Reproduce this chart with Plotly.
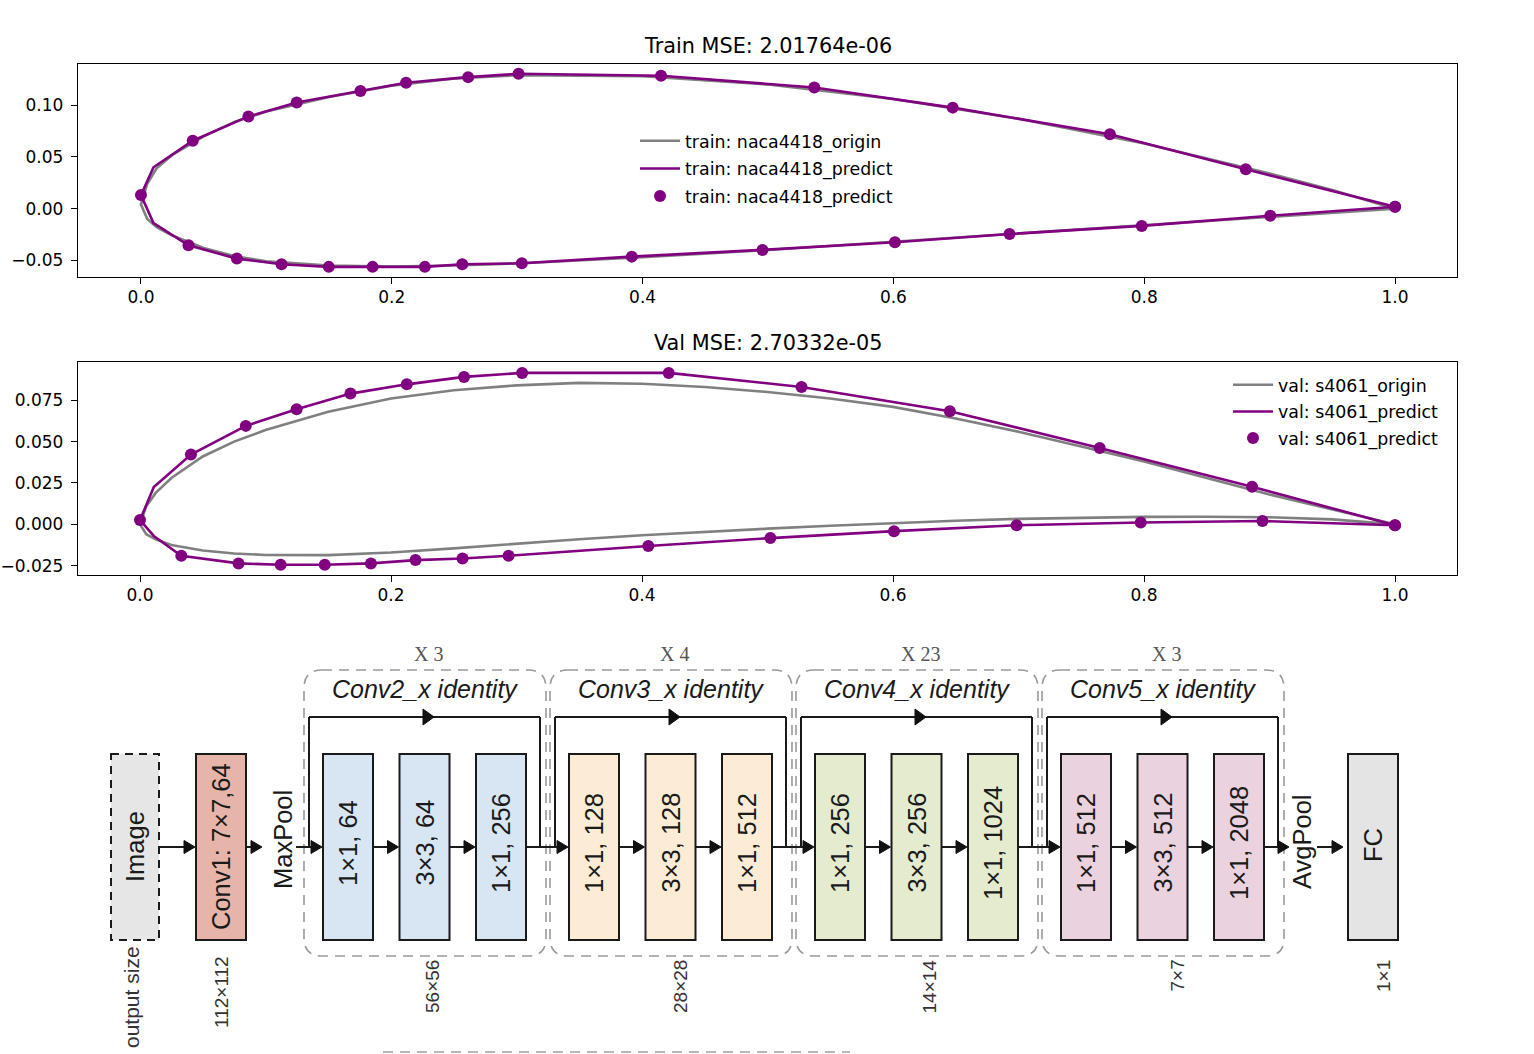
import plotly.graph_objects as go

W, H = 1534, 1054

# ---------------- airfoil data ----------------
# train: naca4418 -- origin contour (TE -> upper -> nose -> lower -> TE)
train_origin_x = [1.0, 0.95, 0.9, 0.8, 0.7, 0.6, 0.5, 0.4, 0.3, 0.25, 0.2, 0.15, 0.1, 0.075, 0.05, 0.025, 0.0125, 0.005, 0.0,
                  0.005, 0.0125, 0.025, 0.05, 0.075, 0.1, 0.15, 0.2, 0.25, 0.3, 0.4, 0.5, 0.6, 0.7, 0.8, 0.9, 0.95, 1.0]
train_origin_y = [0.0, 0.018, 0.034, 0.063, 0.087, 0.106, 0.120, 0.128, 0.129, 0.126, 0.119, 0.108, 0.094, 0.084, 0.070, 0.052, 0.039, 0.024, 0.004,
                  -0.010, -0.018, -0.026, -0.038, -0.046, -0.051, -0.055, -0.056, -0.055, -0.053, -0.047, -0.040, -0.032, -0.024, -0.016, -0.008, -0.004, 0.0]
# train: naca4418 -- predicted contour (line)
train_pred_x = [1.0, 0.881, 0.7726, 0.6473, 0.5369, 0.4147, 0.3011, 0.2609, 0.2114, 0.175, 0.1242, 0.0857, 0.0413, 0.010, 0.0, 0.010,
                0.0379, 0.0765, 0.1121, 0.1498, 0.1847, 0.2264, 0.2562, 0.3037, 0.3914, 0.4956, 0.6012, 0.6926, 0.798, 0.9005, 1.0]
train_pred_y = [0.0019, 0.0380, 0.0719, 0.0977, 0.1172, 0.1285, 0.1304, 0.1272, 0.1217, 0.1137, 0.1027, 0.0892, 0.0657, 0.040, 0.0132, -0.014,
                -0.0354, -0.0483, -0.0538, -0.0563, -0.0563, -0.0563, -0.0538, -0.0528, -0.0464, -0.0399, -0.0325, -0.0245, -0.0167, -0.0068, 0.0019]
# train: naca4418 -- predicted points (markers)
train_pts_x = [1.0, 0.881, 0.7726, 0.6473, 0.5369, 0.4147, 0.3011, 0.2609, 0.2114, 0.175, 0.1242, 0.0857, 0.0413, 0.0,
               0.0379, 0.0765, 0.1121, 0.1498, 0.1847, 0.2264, 0.2562, 0.3037, 0.3914, 0.4956, 0.6012, 0.6926, 0.798, 0.9005, 1.0]
train_pts_y = [0.0019, 0.0380, 0.0719, 0.0977, 0.1172, 0.1285, 0.1304, 0.1272, 0.1217, 0.1137, 0.1027, 0.0892, 0.0657, 0.0132,
               -0.0354, -0.0483, -0.0538, -0.0563, -0.0563, -0.0563, -0.0538, -0.0528, -0.0464, -0.0399, -0.0325, -0.0245, -0.0167, -0.0068, 0.0019]

# val: s4061 -- origin contour
val_origin_x = [1.0, 0.95, 0.9, 0.85, 0.8, 0.75, 0.7, 0.65, 0.6, 0.55, 0.5, 0.45, 0.4, 0.35, 0.3, 0.25, 0.2, 0.15, 0.1, 0.075, 0.05, 0.025, 0.0125, 0.005, 0.0,
                0.005, 0.0125, 0.025, 0.05, 0.075, 0.1, 0.15, 0.2, 0.25, 0.3, 0.35, 0.4, 0.45, 0.5, 0.55, 0.6, 0.65, 0.7, 0.75, 0.8, 0.85, 0.9, 0.95, 1.0]
val_origin_y = [0.0, 0.009, 0.018, 0.028, 0.038, 0.047, 0.056, 0.064, 0.071, 0.076, 0.080, 0.083, 0.085, 0.0855, 0.084, 0.081, 0.076, 0.068, 0.057, 0.050, 0.041, 0.028, 0.019, 0.011, 0.0,
                -0.006, -0.009, -0.0125, -0.0158, -0.0176, -0.0185, -0.0186, -0.017, -0.0145, -0.0117, -0.009, -0.0066, -0.0045, -0.0026, -0.0008, 0.0008, 0.0022, 0.0033, 0.0041, 0.0045, 0.0046, 0.0043, 0.003, 0.0]
# val: s4061 -- predicted contour (line)
val_pred_x = [1.0, 0.8861, 0.7647, 0.6453, 0.5271, 0.4213, 0.3045, 0.2582, 0.2126, 0.1677, 0.1248, 0.0843, 0.0406, 0.011, 0.0, 0.011,
              0.0329, 0.0785, 0.1121, 0.1472, 0.1840, 0.2195, 0.2570, 0.2937, 0.4050, 0.5023, 0.6008, 0.6985, 0.7974, 0.8944, 1.0]
val_pred_y = [-0.0005, 0.0227, 0.0462, 0.0684, 0.0830, 0.0915, 0.0915, 0.0891, 0.0846, 0.0790, 0.0696, 0.0595, 0.0422, 0.0226, 0.0026, -0.007,
              -0.0190, -0.0236, -0.0244, -0.0244, -0.0236, -0.0216, -0.0206, -0.0190, -0.0131, -0.0083, -0.0041, -0.0005, 0.0011, 0.0020, -0.0005]
# val: s4061 -- predicted points (markers)
val_pts_x = [1.0, 0.8861, 0.7647, 0.6453, 0.5271, 0.4213, 0.3045, 0.2582, 0.2126, 0.1677, 0.1248, 0.0843, 0.0406, 0.0,
             0.0329, 0.0785, 0.1121, 0.1472, 0.1840, 0.2195, 0.2570, 0.2937, 0.4050, 0.5023, 0.6008, 0.6985, 0.7974, 0.8944, 1.0]
val_pts_y = [-0.0005, 0.0227, 0.0462, 0.0684, 0.0830, 0.0915, 0.0915, 0.0891, 0.0846, 0.0790, 0.0696, 0.0595, 0.0422, 0.0026,
             -0.0190, -0.0236, -0.0244, -0.0244, -0.0236, -0.0216, -0.0206, -0.0190, -0.0131, -0.0083, -0.0041, -0.0005, 0.0011, 0.0020, -0.0005]

x_tickvals = [0.0, 0.2, 0.4, 0.6, 0.8, 1.0]
x_ticktext = ["0.0", "0.2", "0.4", "0.6", "0.8", "1.0"]
train_ytickvals = [0.10, 0.05, 0.0, -0.05]
train_yticktext = ["0.10", "0.05", "0.00", "\u22120.05"]
val_ytickvals = [0.075, 0.05, 0.025, 0.0, -0.025]
val_yticktext = ["0.075", "0.050", "0.025", "0.000", "\u22120.025"]

train_title = "Train MSE: 2.01764e-06"
val_title = "Val MSE: 2.70332e-05"
train_names = ["train: naca4418_origin", "train: naca4418_predict", "train: naca4418_predict"]
val_names = ["val: s4061_origin", "val: s4061_predict", "val: s4061_predict"]

# ---------------- ResNet diagram data ----------------
stage_titles = ["Conv2_x identity", "Conv3_x identity", "Conv4_x identity", "Conv5_x identity"]
stage_repeats = ["X 3", "X 4", "X 23", "X 3"]
stage_blocks = [["1\u00d71, 64", "3\u00d73, 64", "1\u00d71, 256"],
                ["1\u00d71, 128", "3\u00d73, 128", "1\u00d71, 512"],
                ["1\u00d71, 256", "3\u00d73, 256", "1\u00d71, 1024"],
                ["1\u00d71, 512", "3\u00d73, 512", "1\u00d71, 2048"]]
stage_colors = ["#d8e5f3", "#fcecd6", "#e4ebcf", "#ead2de"]
stage_outsizes = ["56\u00d756", "28\u00d728", "14\u00d714", "7\u00d77"]
head_labels = ["Image", "Conv1: 7\u00d77,64", "MaxPool", "AvgPool", "FC"]
head_colors = ["#e6e6e6", "#e6b4a8", "#e4e4e4"]
head_outsizes = ["output size", "112\u00d7112", "1\u00d71"]

# ---------------- figure ----------------
PURPLE = "#800080"
GRAY = "#808080"
TICKFONT = dict(family="DejaVu Sans", size=17, color="black")

fig = go.Figure()

def add_airfoil(ox, oy, px, py, mx, my, names, xa, ya, leg):
    fig.add_trace(go.Scatter(x=ox, y=oy, mode="lines", line=dict(color=GRAY, width=2.6),
                             name=names[0], xaxis=xa, yaxis=ya, legend=leg, legendgroup=leg + "a"))
    fig.add_trace(go.Scatter(x=px, y=py, mode="lines", line=dict(color=PURPLE, width=2.6),
                             name=names[1], xaxis=xa, yaxis=ya, legend=leg, legendgroup=leg + "b"))
    fig.add_trace(go.Scatter(x=mx, y=my, mode="markers", marker=dict(color=PURPLE, size=12),
                             name=names[2], xaxis=xa, yaxis=ya, legend=leg, legendgroup=leg + "c"))

add_airfoil(train_origin_x, train_origin_y, train_pred_x, train_pred_y, train_pts_x, train_pts_y,
            train_names, "x", "y", "legend")
add_airfoil(val_origin_x, val_origin_y, val_pred_x, val_pred_y, val_pts_x, val_pts_y,
            val_names, "x2", "y2", "legend2")
# invisible carrier trace for the diagram canvas axes
fig.add_trace(go.Scatter(x=[0], y=[0], mode="markers", marker=dict(opacity=0), xaxis="x3", yaxis="y3",
                         showlegend=False, hoverinfo="skip"))

def ax_style(**kw):
    d = dict(showline=True, mirror=True, linecolor="black", linewidth=1.4, ticks="outside",
             ticklen=6, tickwidth=1.4, tickcolor="black", showgrid=False, zeroline=False,
             tickfont=TICKFONT, ticklabelstandoff=4, fixedrange=True)
    d.update(kw)
    return d

# plot frames in pixel positions
P1_T, P1_B, P2_T, P2_B, PL, PR = 64, 277, 362, 575, 78, 1457
LEGFONT = dict(family="DejaVu Sans", size=17.4, color="black")

fig.update_layout(
    width=W, height=H, margin=dict(l=0, r=0, t=0, b=0),
    paper_bgcolor="white", plot_bgcolor="rgba(0,0,0,0)",
    xaxis=ax_style(domain=[PL / W, PR / W], anchor="y", range=[-0.0502, 1.0494],
                   tickvals=x_tickvals, ticktext=x_ticktext, ticklabelstandoff=-2),
    yaxis=ax_style(domain=[1 - P1_B / H, 1 - P1_T / H], anchor="x", range=[-0.0661, 0.1399],
                   tickvals=train_ytickvals, ticktext=train_yticktext),
    xaxis2=ax_style(domain=[PL / W, PR / W], anchor="y2", range=[-0.0494, 1.0494],
                    tickvals=x_tickvals, ticktext=x_ticktext, ticklabelstandoff=-2),
    yaxis2=ax_style(domain=[1 - P2_B / H, 1 - P2_T / H], anchor="x2", range=[-0.0306, 0.0981],
                    tickvals=val_ytickvals, ticktext=val_yticktext),
    xaxis3=dict(domain=[0, 1], anchor="y3", range=[0, W], visible=False, fixedrange=True),
    yaxis3=dict(domain=[0, 1], anchor="x3", range=[H, 0], visible=False, fixedrange=True),
    legend=dict(x=635 / W, y=1 - 123 / H, xanchor="left", yanchor="top", bgcolor="rgba(0,0,0,0)",
                font=LEGFONT, traceorder="grouped", tracegroupgap=2, itemwidth=40),
    legend2=dict(x=1228 / W, y=1 - 367 / H, xanchor="left", yanchor="top", bgcolor="rgba(0,0,0,0)",
                 font=LEGFONT, traceorder="grouped", tracegroupgap=1, itemwidth=40),
    showlegend=True,
)

shapes = []
anns = []
C = dict(xref="x3", yref="y3")

# titles of the two airfoil panels
for txt, yy in [(train_title, 46), (val_title, 343)]:
    anns.append(dict(text=txt, x=(PL + PR) / 2, y=yy, showarrow=False, xanchor="center", yanchor="middle",
                     font=dict(family="DejaVu Sans", size=20.8, color="black"), **C))

BT, BB, MY = 754, 940, 847          # block top/bottom, flow line y
BW = 50
LBL = dict(family="Liberation Sans", size=25.5, color="#1a1a1a")
OUT = dict(family="Liberation Sans", size=19, color="#333333")

def box(x0, x1, fill, dash="solid", color="#1a1a1a", width=2):
    shapes.append(dict(type="rect", x0=x0, x1=x1, y0=BT, y1=BB, fillcolor=fill,
                       line=dict(color=color, width=width, dash=dash), layer="above", **C))

def vtext(txt, x, y, font=LBL, yanchor="middle"):
    anns.append(dict(text=txt, x=x, y=y, textangle=-90, showarrow=False, xanchor="center",
                     yanchor=yanchor, font=font, **C))

def seg(x0, y0, x1, y1, color="#1a1a1a", width=2, dash="solid"):
    shapes.append(dict(type="line", x0=x0, y0=y0, x1=x1, y1=y1,
                       line=dict(color=color, width=width, dash=dash), **C))

def head(tx, ty, L=11, hw=6.5):
    shapes.append(dict(type="path", path=f"M{tx},{ty} L{tx - L},{ty - hw} L{tx - L},{ty + hw} Z",
                       fillcolor="#111111", line=dict(color="#111111", width=1), **C))

def arrow(xa, xb, y=MY):
    seg(xa, y, xb - 4, y)
    head(xb, y)

def rounded(x0, x1, y0, y1, r=18):
    p = (f"M{x0 + r},{y0} L{x1 - r},{y0} Q{x1},{y0} {x1},{y0 + r} L{x1},{y1 - r} Q{x1},{y1} {x1 - r},{y1} "
         f"L{x0 + r},{y1} Q{x0},{y1} {x0},{y1 - r} L{x0},{y0 + r} Q{x0},{y0} {x0 + r},{y0} Z")
    shapes.append(dict(type="path", path=p, line=dict(color="#9a9a9a", width=1.6, dash="10px,7px"),
                       fillcolor="rgba(0,0,0,0)", **C))

# input image and conv1
IMG_X, C1_X = 111, 196
box(IMG_X, IMG_X + 48, head_colors[0], dash="8px,6px")
vtext(head_labels[0], IMG_X + 24, MY)
box(C1_X, C1_X + BW, head_colors[1])
vtext(head_labels[1], C1_X + BW / 2, MY)
arrow(IMG_X + 48, C1_X - 1)
arrow(C1_X + BW, 262)
vtext(head_labels[2], 283, 840)
vtext(head_outsizes[0], IMG_X + 20, 944, font=dict(OUT, size=21), yanchor="top")
vtext(head_outsizes[1], C1_X + BW / 2, 954, font=OUT, yanchor="top")

# residual stages
G0, GP, BP = 304, 246, 76.5
prev_right = 296
for g in range(len(stage_titles)):
    gx0 = G0 + GP * g
    gx1 = gx0 + 242
    rounded(gx0, gx1, 670, 956)
    anns.append(dict(text=stage_repeats[g], x=gx0 + 124, y=654, showarrow=False, xanchor="center",
                     yanchor="middle", font=dict(family="Liberation Serif", size=20, color="#555555"), **C))
    anns.append(dict(text=stage_titles[g], x=gx0 + 121, y=689, showarrow=False, xanchor="center",
                     yanchor="middle", font=dict(family="Liberation Sans", size=25, color="#1a1a1a",
                                                 style="italic"), **C))
    # skip connection
    sl, sr = gx0 + 5, gx0 + 236
    seg(sl, MY, sl, 717)
    seg(sl, 717, sr, 717)
    seg(sr, 717, sr, MY)
    head(gx0 + 130, 717, L=11, hw=8)
    for j in range(3):
        bx = gx0 + 19 + BP * j
        box(bx, bx + BW, stage_colors[g])
        vtext(stage_blocks[g][j], bx + BW / 2, MY - 4)
        arrow(prev_right, bx - 1)
        prev_right = bx + BW
    vtext(stage_outsizes[g], gx0 + 19 + BP + BW / 2 + 8 + 2 * g, 958, font=OUT, yanchor="top")

# avgpool + fc
arrow(prev_right, 1289)
vtext(head_labels[3], 1302, 842)
FC_X = 1348
arrow(1317, FC_X - 5)
box(FC_X, FC_X + BW, head_colors[2])
vtext(head_labels[4], FC_X + BW / 2, MY - 2)
vtext(head_outsizes[2], FC_X + BW / 2 + 10, 958, font=OUT, yanchor="top")

# cut-off frame at the very bottom
seg(383, 1052, 850, 1052, color="#a0a0a0", width=1.6, dash="10px,7px")

fig.update_layout(shapes=shapes, annotations=anns)
fig.write_html("out.html", config={"displayModeBar": False},
               post_script="document.body.style.margin='0px';")
